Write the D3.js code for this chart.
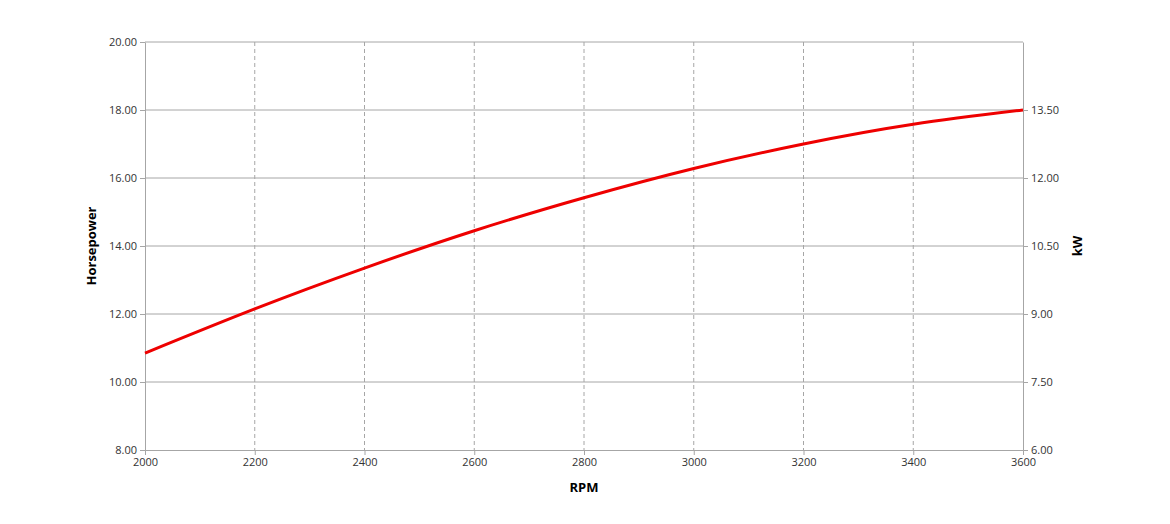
<!DOCTYPE html>
<html><head><meta charset="utf-8">
<script src="https://cdn.jsdelivr.net/npm/d3@7"></script>
<style>body{margin:0;background:#fff;font-family:"Open Sans",sans-serif}</style>
</head><body><svg id="c" width="1170" height="524"></svg>
<script>
const rpm = [2000, 2200, 2400, 2600, 2800, 3000, 3200, 3400, 3600];
const hp = [10.85, 12.15, 13.35, 14.45, 15.42, 16.28, 17.0, 17.58, 18.0];
const hpTicks = [8, 10, 12, 14, 16, 18, 20];
const kwTicks = [6, 7.5, 9, 10.5, 12, 13.5];

const svg = d3.select("#c");
const L = 145, R = 1023, T = 42, B = 450;
const x = d3.scaleLinear().domain([2000, 3600]).range([L, R]);
const y = d3.scaleLinear().domain([8, 20]).range([B, T]);
const yk = d3.scaleLinear().domain([6, 15]).range([B, T]);

// grid
svg.append("g").selectAll("line").data(hpTicks.slice(1)).join("line")
  .attr("x1", L).attr("x2", R).attr("y1", d => y(d)).attr("y2", d => y(d))
  .attr("stroke", "#a6a6a6");
svg.append("g").selectAll("line").data(rpm.slice(1, -1)).join("line")
  .attr("x1", d => x(d)).attr("x2", d => x(d)).attr("y1", T).attr("y2", B)
  .attr("stroke", "#a6a6a6").attr("stroke-dasharray", "4,3");

const style = g => {
  g.selectAll("path,line").attr("stroke", "#a6a6a6");
  g.selectAll("text").attr("fill", "#333").attr("font-size", 11).attr("font-family", "Open Sans");
};
svg.append("g").attr("transform", `translate(0,${B})`)
  .call(d3.axisBottom(x).tickValues(rpm).tickFormat(d3.format("d")).tickSize(5).tickSizeOuter(0)).call(style);
svg.append("g").attr("transform", `translate(${L},0)`)
  .call(d3.axisLeft(y).tickValues(hpTicks).tickFormat(d3.format(".2f")).tickSize(5).tickSizeOuter(0)).call(style);
svg.append("g").attr("transform", `translate(${R},0)`)
  .call(d3.axisRight(yk).tickValues(kwTicks).tickFormat(d3.format(".2f")).tickSize(5).tickSizeOuter(0)).call(style);

svg.append("path").datum(rpm.map((r, i) => [r, hp[i]]))
  .attr("fill", "none").attr("stroke", "#ee0000").attr("stroke-width", 3)
  .attr("d", d3.line().x(d => x(d[0])).y(d => y(d[1])).curve(d3.curveNatural));

svg.append("text").attr("x", (L + R) / 2).attr("y", 492).attr("text-anchor", "middle")
  .attr("font-weight", "bold").attr("font-size", 13).text("RPM");
svg.append("text").attr("transform", `translate(96,${(T + B) / 2}) rotate(-90)`).attr("text-anchor", "middle")
  .attr("font-weight", "bold").attr("font-size", 13).text("Horsepower");
svg.append("text").attr("transform", `translate(1082,${(T + B) / 2}) rotate(-90)`).attr("text-anchor", "middle")
  .attr("font-weight", "bold").attr("font-size", 13).text("kW");
</script></body></html>
